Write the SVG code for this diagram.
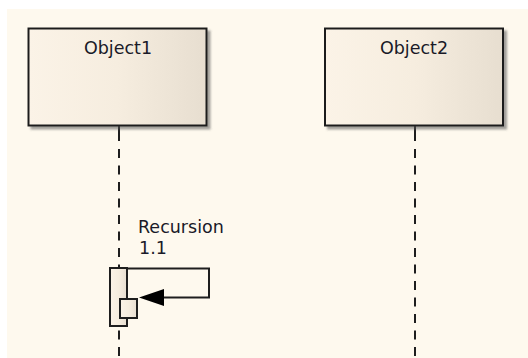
<svg xmlns="http://www.w3.org/2000/svg" width="528" height="358" viewBox="0 0 528 358">
  <defs>
    <linearGradient id="boxFill" x1="0" y1="0" x2="1" y2="0">
      <stop offset="0" stop-color="#FBF3E7"/>
      <stop offset="0.5" stop-color="#F6EDDF"/>
      <stop offset="1" stop-color="#E7DED0"/>
    </linearGradient>
    <filter id="shadow" x="-10%" y="-10%" width="130%" height="130%">
      <feDropShadow dx="3" dy="3" stdDeviation="1" flood-color="#555555" flood-opacity="0.55"/>
    </filter>
  </defs>
  <style>
    .obj { fill: url(#boxFill); stroke: #1e1e1e; stroke-width: 2; filter: url(#shadow); }
    .act { fill: url(#boxFill); stroke: #1e1e1e; stroke-width: 2; }
    .life { stroke: #1e1e1e; stroke-width: 2; fill: none; }
    .dash { stroke-dasharray: 9 7.5; }
    .msg { stroke: #1e1e1e; stroke-width: 2; fill: none; }
    .label { font-family: "DejaVu Sans", Verdana, sans-serif; font-size: 17.5px; fill: #1a1a28; }
  </style>
  <rect x="0" y="0" width="528" height="358" fill="#FFFFFF"/>
  <rect x="7" y="9" width="521" height="349" fill="#FEF9EE"/>

  <g id="connectors">
    <line class="life" x1="119" y1="126" x2="119" y2="141"/>
    <line class="life dash" x1="119" y1="149" x2="119" y2="358"/>
    <line class="life" x1="415" y1="126" x2="415" y2="141"/>
    <line class="life dash" x1="415" y1="149" x2="415" y2="358"/>
  </g>

  <g id="Object1">
    <rect class="obj" x="28.5" y="28.5" width="178" height="97"/>
    <text class="label" x="118" y="53.5" text-anchor="middle">Object1</text>
  </g>

  <g id="Object2">
    <rect class="obj" x="325" y="28.5" width="178" height="97"/>
    <text class="label" x="414" y="53.5" text-anchor="middle">Object2</text>
  </g>

  <g id="Activation1">
    <rect class="act" x="110" y="268" width="17" height="58"/>
  </g>

  <g id="Recursion">
    <polyline class="msg" points="127,268.5 209,268.5 209,297.5 160,297.5"/>
    <polygon points="139,297.5 164,289 164,306" fill="#000000"/>
    <rect class="act" x="120" y="299" width="17" height="19"/>
    <text class="label" x="138" y="233">Recursion</text>
    <text class="label" x="139" y="254">1.1</text>
  </g>
</svg>
